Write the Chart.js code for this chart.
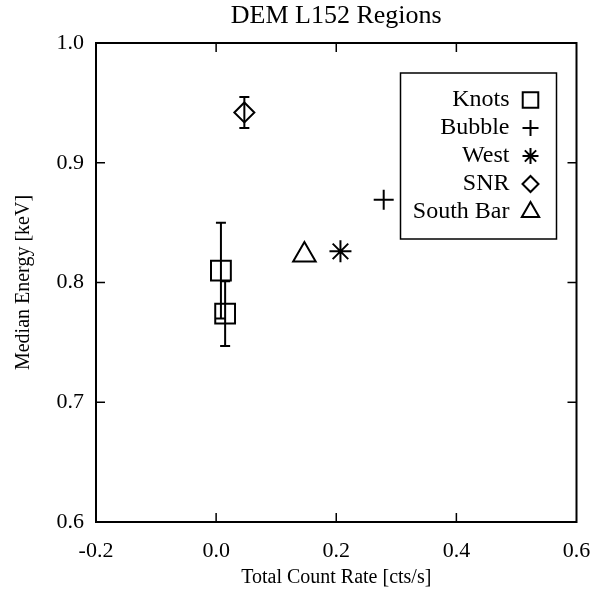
<!DOCTYPE html>
<html>
<head>
<meta charset="utf-8">
<script src="https://cdn.jsdelivr.net/npm/chart.js@4.4.0/dist/chart.umd.min.js"></script>
<style>
  html, body { margin: 0; padding: 0; background: #fff; }
</style>
</head>
<body>
<canvas id="chart" width="604" height="590"></canvas>
<script>
// values
const knotsX = [0.008, 0.015];
const knotsY = [0.810, 0.774];
const knotsErr = [0.040, 0.027];
const bubbleX = [0.279];
const bubbleY = [0.869];
const westX = [0.207];
const westY = [0.826];
const snrX = [0.047];
const snrY = [0.942];
const snrErr = [0.013];
const southX = [0.147];
const southY = [0.823];

const xTicks = [-0.2, 0.0, 0.2, 0.4, 0.6];
const yTicks = [0.6, 0.7, 0.8, 0.9, 1.0];

const serif = '"Liberation Serif", "DejaVu Serif", serif';

const pts = (xs, ys) => xs.map((x, i) => ({ x: x, y: ys[i] }));

const mkSet = (label, xs, ys, style, r, err) => ({
  label: label,
  data: pts(xs, ys),
  pointStyle: style,
  pointRadius: r,
  pointHoverRadius: r,
  pointBorderWidth: 2,
  pointBorderColor: '#000',
  pointBackgroundColor: 'rgba(0,0,0,0)',
  showLine: false,
  errorBars: err || null,
  legendRadius: Math.round(r * 0.75)
});

// frame with inward ticks on all four sides
const framePlugin = {
  id: 'frame',
  afterDatasetsDraw(chart) {
    const { ctx, chartArea: a, scales } = chart;
    ctx.save();
    ctx.strokeStyle = '#000';
    ctx.lineWidth = 2;
    ctx.strokeRect(a.left, a.top, a.right - a.left, a.bottom - a.top);
    ctx.lineWidth = 1.5;
    ctx.beginPath();
    scales.x.ticks.forEach(t => {
      const px = scales.x.getPixelForValue(t.value);
      if (px <= a.left + 1 || px >= a.right - 1) return;
      ctx.moveTo(px, a.bottom); ctx.lineTo(px, a.bottom - 9);
      ctx.moveTo(px, a.top); ctx.lineTo(px, a.top + 9);
    });
    scales.y.ticks.forEach(t => {
      const py = scales.y.getPixelForValue(t.value);
      if (py <= a.top + 1 || py >= a.bottom - 1) return;
      ctx.moveTo(a.left, py); ctx.lineTo(a.left + 9, py);
      ctx.moveTo(a.right, py); ctx.lineTo(a.right - 9, py);
    });
    ctx.stroke();
    ctx.restore();
  }
};

const errorBarPlugin = {
  id: 'errbars',
  afterDatasetsDraw(chart) {
    const { ctx, scales } = chart;
    ctx.save();
    ctx.strokeStyle = '#000';
    ctx.lineWidth = 2;
    chart.data.datasets.forEach(ds => {
      if (!ds.errorBars) return;
      ds.data.forEach((p, i) => {
        const e = ds.errorBars[i];
        const px = scales.x.getPixelForValue(p.x);
        const top = scales.y.getPixelForValue(p.y + e);
        const bot = scales.y.getPixelForValue(p.y - e);
        ctx.beginPath();
        ctx.moveTo(px, top); ctx.lineTo(px, bot);
        ctx.moveTo(px - 5, top); ctx.lineTo(px + 5, top);
        ctx.moveTo(px - 5, bot); ctx.lineTo(px + 5, bot);
        ctx.stroke();
      });
    });
    ctx.restore();
  }
};

// boxed legend, text right-aligned with the marker after it
const boxLegendPlugin = {
  id: 'boxLegend',
  afterDraw(chart) {
    const { ctx, chartArea: a } = chart;
    const w = 156, h = 166;
    const bx = a.right - 20 - w, by = a.top + 30;
    ctx.save();
    ctx.strokeStyle = '#000';
    ctx.lineWidth = 1.5;
    ctx.strokeRect(bx, by, w, h);
    ctx.font = '24px ' + serif;
    ctx.fillStyle = '#000';
    ctx.textAlign = 'right';
    ctx.textBaseline = 'middle';
    chart.data.datasets.forEach((ds, i) => {
      const y = by + 27 + i * 28;
      ctx.fillText(ds.label, bx + 109, y);
      ctx.lineWidth = 2;
      ctx.strokeStyle = '#000';
      ctx.fillStyle = 'rgba(0,0,0,0)';
      Chart.helpers.drawPoint(ctx, {
        pointStyle: ds.pointStyle, radius: ds.legendRadius, rotation: 0, borderWidth: 2
      }, bx + 130, y);
      ctx.fillStyle = '#000';
    });
    ctx.restore();
  }
};

new Chart(document.getElementById('chart'), {
  type: 'scatter',
  data: {
    datasets: [
      mkSet('Knots', knotsX, knotsY, 'rect', 14, knotsErr),
      mkSet('Bubble', bubbleX, bubbleY, 'cross', 10),
      mkSet('West', westX, westY, 'star', 11),
      mkSet('SNR', snrX, snrY, 'rectRot', 10, snrErr),
      mkSet('South Bar', southX, southY, 'triangle', 13)
    ]
  },
  options: {
    responsive: false,
    animation: false,
    layout: { padding: { left: 0, right: 27.5, top: 0, bottom: 0 } },
    plugins: {
      legend: { display: false },
      tooltip: { enabled: false },
      title: {
        display: true,
        text: 'DEM L152 Regions',
        color: '#000',
        fullSize: false,
        font: { family: serif, size: 26, weight: 'normal', lineHeight: 1 },
        padding: { top: 3, bottom: 14 }
      }
    },
    scales: {
      x: {
        type: 'linear',
        min: -0.2, max: 0.6,
        afterBuildTicks: s => { s.ticks = xTicks.map(v => ({ value: v })); },
        afterFit: s => { s.height = 68; },
        grid: { display: false },
        border: { display: false },
        ticks: {
          color: '#000',
          padding: 8,
          font: { family: serif, size: 22 },
          callback: v => v.toFixed(1)
        },
        title: {
          display: true,
          text: 'Total Count Rate [cts/s]',
          color: '#000',
          font: { family: serif, size: 20 },
          padding: { top: 0, bottom: 0 }
        }
      },
      y: {
        type: 'linear',
        min: 0.6, max: 1.0,
        afterBuildTicks: s => { s.ticks = yTicks.map(v => ({ value: v })); },
        afterFit: s => { s.width = 96; },
        grid: { display: false },
        border: { display: false },
        ticks: {
          color: '#000',
          padding: 4,
          font: { family: serif, size: 22 },
          callback: v => v.toFixed(1)
        },
        title: {
          display: true,
          text: 'Median Energy [keV]',
          color: '#000',
          font: { family: serif, size: 20 },
          padding: { top: 12, bottom: 0 }
        }
      }
    }
  },
  plugins: [framePlugin, errorBarPlugin, boxLegendPlugin]
});
</script>
</body>
</html>
